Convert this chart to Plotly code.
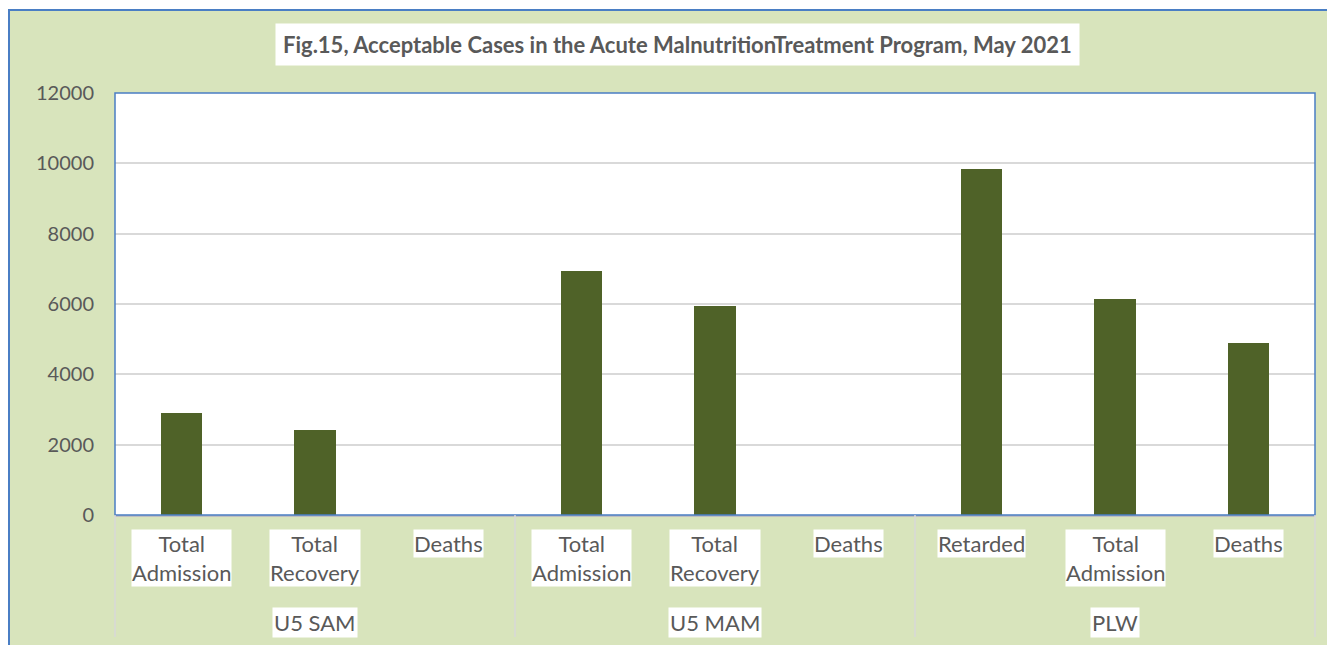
import plotly.graph_objects as go

# chart data
group_names = ["U5 SAM", "U5 MAM", "PLW"]
group_sizes = [3, 3, 3]
categories = ["Total Admission", "Total Recovery", "Deaths",
              "Total Admission", "Total Recovery", "Deaths",
              "Retarded", "Total Admission", "Deaths"]
values = [2900, 2430, 0, 6930, 5930, 0, 9830, 6130, 4880]
y_ticks = [0, 2000, 4000, 6000, 8000, 10000, 12000]

title = "Fig.15, Acceptable Cases in the Acute MalnutritionTreatment Program, May 2021"

BAR = "#4F6228"
BG = "#D8E4BC"
BLUE = "#4A7EC4"
GRID = "#D9D9D9"
TXT = "#595959"
FONT = "Lato"

# the page body has an 8px margin, so the figure is 8px smaller than the window
OFF = 8
W, H = 1335 - OFF, 645 - OFF
PLOT_L, PLOT_R, PLOT_T, PLOT_B = 115, 1315, 93, 515   # page pixels
plot_w = PLOT_R - PLOT_L
plot_h = PLOT_B - PLOT_T


def py(pixel_y):
    # page pixel row -> paper y
    return (PLOT_B - pixel_y) / plot_h


def px(pixel_x):
    return (pixel_x - PLOT_L) / plot_w


xs = list(range(len(categories)))

fig = go.Figure()
fig.add_trace(go.Bar(x=xs, y=values, width=0.31, marker_color=BAR,
                     marker_line_width=0, showlegend=False))

shapes = [
    # chart area background with blue frame
    dict(type="rect", xref="paper", yref="paper", x0=px(9), x1=1.2, y0=-0.6, y1=py(10),
         fillcolor=BG, line=dict(color=BLUE, width=2), layer="below"),
    # white plot area
    dict(type="rect", xref="paper", yref="paper", x0=0, x1=1, y0=0, y1=1,
         fillcolor="white", line=dict(width=0), layer="below"),
    # plot area border
    dict(type="rect", xref="paper", yref="paper", x0=0, x1=1, y0=0, y1=1,
         line=dict(color=BLUE, width=1.5), layer="above"),
]

# group separators
n = len(categories)
edge = 0
bounds = [0]
for s in group_sizes:
    edge += s
    bounds.append(edge)
for b in bounds:
    shapes.append(dict(type="line", xref="paper", yref="paper", x0=b / n, x1=b / n,
                       y0=0, y1=py(637), line=dict(color=GRID, width=1.5)))

annotations = [
    dict(text="<b>" + title + "</b>", xref="paper", yref="paper", x=px(677), y=py(45),
         xanchor="center", yanchor="middle", showarrow=False, bgcolor="white",
         borderpad=7, font=dict(family=FONT, size=22, color=TXT)),
]

for x, c in zip(xs, categories):
    annotations.append(dict(text=c.replace(" ", "<br>"), xref="x", yref="paper", x=x,
                            y=py(529), xanchor="center", yanchor="top", showarrow=False,
                            bgcolor="white", borderpad=0,
                            font=dict(family=FONT, size=22, color=TXT)))

for i, g in enumerate(group_names):
    mid = (bounds[i] + bounds[i + 1]) / 2 / n
    annotations.append(dict(text=g, xref="paper", yref="paper", x=mid, y=py(622),
                            xanchor="center", yanchor="middle", showarrow=False,
                            bgcolor="white", borderpad=1,
                            font=dict(family=FONT, size=22, color=TXT)))

fig.update_layout(
    width=W, height=H,
    margin=dict(l=PLOT_L - OFF, r=W - (PLOT_R - OFF), t=PLOT_T - OFF, b=H - (PLOT_B - OFF)),
    paper_bgcolor="white",
    plot_bgcolor="rgba(0,0,0,0)",
    font=dict(family=FONT, color=TXT),
    bargap=0,
    shapes=shapes,
    annotations=annotations,
    xaxis=dict(range=[-0.5, n - 0.5], showticklabels=False, showgrid=False,
               zeroline=False, showline=True, linecolor="#BFBFBF", linewidth=1.5,
               fixedrange=True),
    yaxis=dict(range=[0, 12000], tickvals=y_ticks, tickformat="d", showgrid=True,
               gridcolor=GRID, gridwidth=1.5, zeroline=False, showline=False,
               tickfont=dict(family=FONT, size=20, color=TXT),
               ticklabelstandoff=20, fixedrange=True),
)

fig.write_html("out.html")
